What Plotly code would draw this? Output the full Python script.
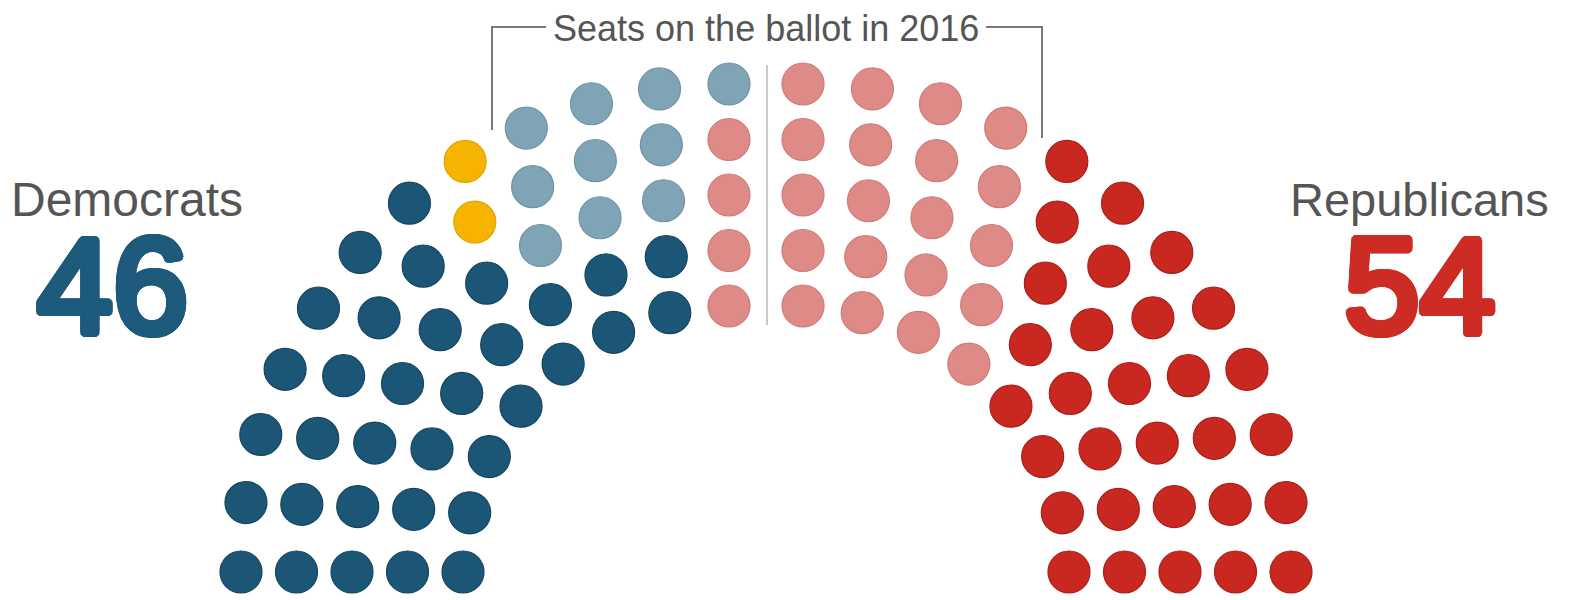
import math
import plotly.graph_objects as go

# ---- Data: seats per ring (outermost ring first), read left-to-right within each ring ----
dem_held = [7, 6, 6, 8, 7]   # Democratic seats not up in 2016  (34)
ind_held = [1, 1, 0, 0, 0]   # Independents                     (2)
dem_up   = [4, 3, 3, 0, 0]   # Democratic seats on the ballot   (10)
rep_up   = [4, 5, 5, 5, 5]   # Republican seats on the ballot   (24)
rep_held = [8, 7, 6, 5, 4]   # Republican seats not up in 2016  (30)

group_names = ["Democrats (not up)", "Independents", "Democrats (on ballot)",
               "Republicans (on ballot)", "Republicans (not up)"]
group_counts = [dem_held, ind_held, dem_up, rep_up, rep_held]

party_labels = ["Democrats", "Republicans"]
party_totals = [46, 54]
bracket_label = "Seats on the ballot in 2016"

# ---- Styles / layout constants ----
group_colors = ["#1b5676", "#f6b400", "#7fa4b6", "#de8b87", "#c8281f"]
group_edges = ["#144560", "#e0a400", "#6f93a5", "#cf7a76", "#a81f18"]
W, H = 1572, 600
CX, CY, GAP = 766, 572, 37
R_OUT, RING_STEP = 488, 55.5
DOT = 42

# ---- Build seat positions: two quarter-circle fans ----
xs = {g: [] for g in group_names}
ys = {g: [] for g in group_names}
n_rings = len(dem_held)
for k in range(n_rings):
    r = R_OUT - k * RING_STEP
    seq = []
    for g, counts in zip(group_names, group_counts):
        seq += [g] * counts[k]
    half = len(seq) // 2
    step = 90.0 / (half - 1)
    for i, g in enumerate(seq):
        if i < half:
            ang = math.radians(180 - i * step)
            cx = CX - GAP
        else:
            ang = math.radians(90 - (i - half) * step)
            cx = CX + GAP
        xs[g].append(cx + r * math.cos(ang))
        ys[g].append(CY - r * math.sin(ang))

fig = go.Figure()
for g, c, e in zip(group_names, group_colors, group_edges):
    fig.add_trace(go.Scatter(
        x=xs[g], y=ys[g], mode="markers", name=g,
        marker=dict(size=DOT, color=c, line=dict(color=e, width=1.2)),
        hoverinfo="skip", showlegend=False))

LINE_GRAY = "#7a7a7a"
# bracket around seats on the ballot
fig.add_shape(type="path", path="M 492 130 L 492 27 L 546 27",
              line=dict(color=LINE_GRAY, width=2), layer="below")
fig.add_shape(type="path", path="M 986 27 L 1042 27 L 1042 138",
              line=dict(color=LINE_GRAY, width=2), layer="below")
# centre divider
fig.add_shape(type="line", x0=767, x1=767, y0=65, y1=325,
              line=dict(color="#b8b8b8", width=1.5), layer="below")


def heavy(color, d=4.0):
    """text-shadow stack that thickens the strokes of a regular-weight face"""
    parts = []
    for rad, n in ((d, 16), (d / 2, 8)):
        for j in range(n):
            a = 2 * math.pi * j / n
            parts.append("%.2fpx %.2fpx 0 %s" % (rad * math.cos(a), rad * math.sin(a), color))
    return ", ".join(parts)


FONT = "Liberation Sans, Arial, sans-serif"
BLUE_NUM, RED_NUM = "#1d5a7b", "#cd2c25"
fig.add_annotation(x=766, y=28, text=bracket_label, showarrow=False,
                   font=dict(family=FONT, size=36, color="#555555"),
                   xanchor="center", yanchor="middle")
fig.add_annotation(x=127, y=199, text=party_labels[0], showarrow=False,
                   font=dict(family=FONT, size=48, color="#555555"),
                   xanchor="center", yanchor="middle")
fig.add_annotation(x=1419, y=199, text=party_labels[1], showarrow=False,
                   font=dict(family=FONT, size=47, color="#555555"),
                   xanchor="center", yanchor="middle")
fig.add_annotation(x=112, y=286, text=str(party_totals[0]), showarrow=False,
                   font=dict(family=FONT, size=136, color=BLUE_NUM, shadow=heavy(BLUE_NUM)),
                   xanchor="center", yanchor="middle")
fig.add_annotation(x=1419, y=286, text=str(party_totals[1]), showarrow=False,
                   font=dict(family=FONT, size=136, color=RED_NUM, shadow=heavy(RED_NUM)),
                   xanchor="center", yanchor="middle")

fig.update_layout(
    width=W, height=H, margin=dict(l=0, r=0, t=0, b=0),
    paper_bgcolor="white", plot_bgcolor="white",
    xaxis=dict(range=[0, W], visible=False, fixedrange=True),
    yaxis=dict(range=[H, 0], visible=False, fixedrange=True),
)

fig.write_html("out.html", config={"displayModeBar": False},
               post_script="document.body.style.margin='0';")
